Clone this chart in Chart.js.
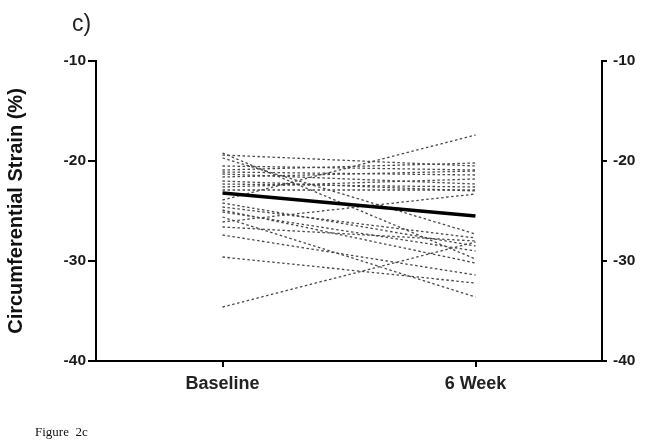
<!DOCTYPE html>
<html>
<head>
<meta charset="utf-8">
<script src="https://cdn.jsdelivr.net/npm/chart.js@4"></script>
<style>
    body { margin: 0; background: #fff; }
    #wrap { position: relative; width: 645px; height: 443px; }
    #panel { position: absolute; left: 72px; top: 10px; font: 23px "Liberation Sans", Arial, sans-serif; color: #222; }
    #caption { position: absolute; left: 35px; top: 424px; font: 13px "Liberation Serif", serif; color: #111; }
</style>
</head>
<body>
<div id="wrap">
    <canvas id="strainChart"></canvas>
    <div id="panel">c)</div>
    <div id="caption">Figure&nbsp;&nbsp;2c</div>
</div>
<script>
// Chart data
const categories = ['Baseline', '6 Week'];
const baselineStrain = [-19.2, -19.4, -19.7, -20.5, -20.9, -21.1, -21.3, -21.6, -22.0, -22.3, -22.6, -22.9,
    -23.9, -24.2, -24.6, -24.9, -25.1, -25.6, -26.1, -26.6, -27.4, -29.6, -34.6];
const week6Strain = [-29.8, -20.5, -27.3, -20.9, -20.2, -21.4, -22.3, -21.0, -23.0, -22.6, -21.8, -22.9,
    -17.4, -28.5, -27.7, -30.2, -29.0, -33.6, -23.3, -28.0, -31.4, -32.2, -28.1];
const meanStrain = [-23.2, -25.5];
const yTicks = [-10, -20, -30, -40];

const axisFont = "'Liberation Sans', Arial, sans-serif";

// one dashed line per subject, mean line on top
const datasets = baselineStrain.map((b, i) => ({
    data: [b, week6Strain[i]],
    borderColor: '#484848',
    borderWidth: 1.3,
    borderDash: [2.5, 2.5],
    pointRadius: 0,
    order: 2
}));
datasets.push({
    data: meanStrain,
    borderColor: '#000',
    borderWidth: 3.5,
    pointRadius: 0,
    order: 1
});

function yAxis(position, width, tickLen, pad) {
    return {
        type: 'linear',
        position: position,
        min: -40,
        max: -10,
        afterBuildTicks: scale => { scale.ticks = yTicks.map(v => ({ value: v })); },
        afterFit: scale => { scale.width = width; },
        border: { display: true, color: '#000', width: 2 },
        grid: { drawOnChartArea: false, drawTicks: true, tickLength: tickLen, color: '#000', lineWidth: 2 },
        ticks: { color: '#1a1a1a', padding: pad, font: { family: axisFont, size: 15.5, weight: 'bold' } }
    };
}

document.addEventListener('DOMContentLoaded', function() {
    const ctx = document.getElementById('strainChart').getContext('2d');
    const leftY = yAxis('left', 96, 8, 2);
    leftY.title = {
        display: true,
        text: 'Circumferential Strain (%)',
        color: '#111',
        padding: { top: 4, bottom: 0 },
        font: { family: axisFont, size: 20, weight: 'bold' }
    };
    new Chart(ctx, {
        type: 'line',
        data: { labels: categories, datasets: datasets },
        options: {
            responsive: true,
            maintainAspectRatio: false,
            animation: false,
            layout: { padding: { top: 61, left: 0, right: 0, bottom: 0 } },
            plugins: { legend: { display: false }, tooltip: { enabled: false } },
            scales: {
                x: {
                    type: 'category',
                    offset: true,
                    afterFit: scale => { scale.height = 82; },
                    border: { display: true, color: '#000', width: 2 },
                    grid: { drawOnChartArea: false, drawTicks: true, tickLength: 6, color: '#000', lineWidth: 2, offset: false },
                    ticks: { color: '#222', padding: 6, font: { family: axisFont, size: 18, weight: 'bold' } }
                },
                y: leftY,
                y2: yAxis('right', 43, 5, 6)
            }
        }
    });
});
</script>
</body>
</html>
